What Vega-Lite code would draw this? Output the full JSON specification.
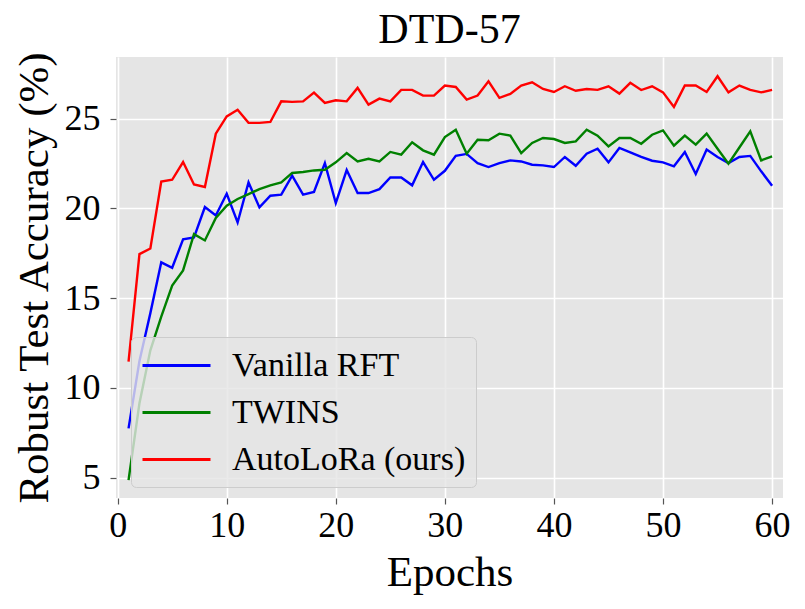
{
  "$schema": "https://vega.github.io/schema/vega-lite/v6.json",
  "width": 667,
  "height": 441,
  "autosize": "none",
  "padding": {"left": 116, "top": 57, "right": 22, "bottom": 111},
  "background": "white",
  "title": {
    "text": "DTD-57",
    "font": "Liberation Serif",
    "fontSize": 42,
    "fontWeight": "normal",
    "color": "black",
    "offset": -2
  },
  "config": {
    "view": {"fill": "#E5E5E5", "stroke": null},
    "axis": {
      "domain": false,
      "grid": true,
      "gridColor": "white",
      "gridWidth": 1.6,
      "tickColor": "#555555",
      "tickSize": 6,
      "tickWidth": 1.2,
      "labelFont": "Liberation Serif",
      "labelFontSize": 36,
      "labelColor": "black",
      "titleFont": "Liberation Serif",
      "titleFontSize": 43,
      "titleFontWeight": "normal",
      "titleColor": "black"
    }
  },
  "data": {
    "values": [
      {"epoch": 1, "method": "Vanilla RFT", "acc": 7.75},
      {"epoch": 2, "method": "Vanilla RFT", "acc": 11.5},
      {"epoch": 3, "method": "Vanilla RFT", "acc": 14.17},
      {"epoch": 4, "method": "Vanilla RFT", "acc": 17.0},
      {"epoch": 5, "method": "Vanilla RFT", "acc": 16.7},
      {"epoch": 6, "method": "Vanilla RFT", "acc": 18.28},
      {"epoch": 7, "method": "Vanilla RFT", "acc": 18.39},
      {"epoch": 8, "method": "Vanilla RFT", "acc": 20.08},
      {"epoch": 9, "method": "Vanilla RFT", "acc": 19.61},
      {"epoch": 10, "method": "Vanilla RFT", "acc": 20.82},
      {"epoch": 11, "method": "Vanilla RFT", "acc": 19.22},
      {"epoch": 12, "method": "Vanilla RFT", "acc": 21.45},
      {"epoch": 13, "method": "Vanilla RFT", "acc": 20.06},
      {"epoch": 14, "method": "Vanilla RFT", "acc": 20.71},
      {"epoch": 15, "method": "Vanilla RFT", "acc": 20.77},
      {"epoch": 16, "method": "Vanilla RFT", "acc": 21.83},
      {"epoch": 17, "method": "Vanilla RFT", "acc": 20.77},
      {"epoch": 18, "method": "Vanilla RFT", "acc": 20.92},
      {"epoch": 19, "method": "Vanilla RFT", "acc": 22.53},
      {"epoch": 20, "method": "Vanilla RFT", "acc": 20.3},
      {"epoch": 21, "method": "Vanilla RFT", "acc": 22.14},
      {"epoch": 22, "method": "Vanilla RFT", "acc": 20.86},
      {"epoch": 23, "method": "Vanilla RFT", "acc": 20.86},
      {"epoch": 24, "method": "Vanilla RFT", "acc": 21.08},
      {"epoch": 25, "method": "Vanilla RFT", "acc": 21.73},
      {"epoch": 26, "method": "Vanilla RFT", "acc": 21.73},
      {"epoch": 27, "method": "Vanilla RFT", "acc": 21.29},
      {"epoch": 28, "method": "Vanilla RFT", "acc": 22.59},
      {"epoch": 29, "method": "Vanilla RFT", "acc": 21.6},
      {"epoch": 30, "method": "Vanilla RFT", "acc": 22.1},
      {"epoch": 31, "method": "Vanilla RFT", "acc": 22.93},
      {"epoch": 32, "method": "Vanilla RFT", "acc": 23.04},
      {"epoch": 33, "method": "Vanilla RFT", "acc": 22.53},
      {"epoch": 34, "method": "Vanilla RFT", "acc": 22.31},
      {"epoch": 35, "method": "Vanilla RFT", "acc": 22.53},
      {"epoch": 36, "method": "Vanilla RFT", "acc": 22.68},
      {"epoch": 37, "method": "Vanilla RFT", "acc": 22.62},
      {"epoch": 38, "method": "Vanilla RFT", "acc": 22.44},
      {"epoch": 39, "method": "Vanilla RFT", "acc": 22.4},
      {"epoch": 40, "method": "Vanilla RFT", "acc": 22.31},
      {"epoch": 41, "method": "Vanilla RFT", "acc": 22.87},
      {"epoch": 42, "method": "Vanilla RFT", "acc": 22.38},
      {"epoch": 43, "method": "Vanilla RFT", "acc": 23.05},
      {"epoch": 44, "method": "Vanilla RFT", "acc": 23.33},
      {"epoch": 45, "method": "Vanilla RFT", "acc": 22.57},
      {"epoch": 46, "method": "Vanilla RFT", "acc": 23.37},
      {"epoch": 47, "method": "Vanilla RFT", "acc": 23.13},
      {"epoch": 48, "method": "Vanilla RFT", "acc": 22.87},
      {"epoch": 49, "method": "Vanilla RFT", "acc": 22.66},
      {"epoch": 50, "method": "Vanilla RFT", "acc": 22.57},
      {"epoch": 51, "method": "Vanilla RFT", "acc": 22.35},
      {"epoch": 52, "method": "Vanilla RFT", "acc": 23.15},
      {"epoch": 53, "method": "Vanilla RFT", "acc": 21.92},
      {"epoch": 54, "method": "Vanilla RFT", "acc": 23.28},
      {"epoch": 55, "method": "Vanilla RFT", "acc": 22.87},
      {"epoch": 56, "method": "Vanilla RFT", "acc": 22.53},
      {"epoch": 57, "method": "Vanilla RFT", "acc": 22.87},
      {"epoch": 58, "method": "Vanilla RFT", "acc": 22.93},
      {"epoch": 59, "method": "Vanilla RFT", "acc": 22.07},
      {"epoch": 60, "method": "Vanilla RFT", "acc": 21.27},
      {"epoch": 1, "method": "TWINS", "acc": 4.87},
      {"epoch": 2, "method": "TWINS", "acc": 9.15},
      {"epoch": 3, "method": "TWINS", "acc": 12.1},
      {"epoch": 4, "method": "TWINS", "acc": 13.98},
      {"epoch": 5, "method": "TWINS", "acc": 15.7},
      {"epoch": 6, "method": "TWINS", "acc": 16.55},
      {"epoch": 7, "method": "TWINS", "acc": 18.57},
      {"epoch": 8, "method": "TWINS", "acc": 18.22},
      {"epoch": 9, "method": "TWINS", "acc": 19.47},
      {"epoch": 10, "method": "TWINS", "acc": 20.15},
      {"epoch": 11, "method": "TWINS", "acc": 20.53},
      {"epoch": 12, "method": "TWINS", "acc": 20.8},
      {"epoch": 13, "method": "TWINS", "acc": 21.08},
      {"epoch": 14, "method": "TWINS", "acc": 21.29},
      {"epoch": 15, "method": "TWINS", "acc": 21.45},
      {"epoch": 16, "method": "TWINS", "acc": 21.98},
      {"epoch": 17, "method": "TWINS", "acc": 22.03},
      {"epoch": 18, "method": "TWINS", "acc": 22.12},
      {"epoch": 19, "method": "TWINS", "acc": 22.16},
      {"epoch": 20, "method": "TWINS", "acc": 22.57},
      {"epoch": 21, "method": "TWINS", "acc": 23.09},
      {"epoch": 22, "method": "TWINS", "acc": 22.62},
      {"epoch": 23, "method": "TWINS", "acc": 22.77},
      {"epoch": 24, "method": "TWINS", "acc": 22.62},
      {"epoch": 25, "method": "TWINS", "acc": 23.15},
      {"epoch": 26, "method": "TWINS", "acc": 23.0},
      {"epoch": 27, "method": "TWINS", "acc": 23.69},
      {"epoch": 28, "method": "TWINS", "acc": 23.24},
      {"epoch": 29, "method": "TWINS", "acc": 23.0},
      {"epoch": 30, "method": "TWINS", "acc": 23.98},
      {"epoch": 31, "method": "TWINS", "acc": 24.39},
      {"epoch": 32, "method": "TWINS", "acc": 23.05},
      {"epoch": 33, "method": "TWINS", "acc": 23.83},
      {"epoch": 34, "method": "TWINS", "acc": 23.8},
      {"epoch": 35, "method": "TWINS", "acc": 24.17},
      {"epoch": 36, "method": "TWINS", "acc": 24.06},
      {"epoch": 37, "method": "TWINS", "acc": 23.09},
      {"epoch": 38, "method": "TWINS", "acc": 23.65},
      {"epoch": 39, "method": "TWINS", "acc": 23.93},
      {"epoch": 40, "method": "TWINS", "acc": 23.87},
      {"epoch": 41, "method": "TWINS", "acc": 23.65},
      {"epoch": 42, "method": "TWINS", "acc": 23.74},
      {"epoch": 43, "method": "TWINS", "acc": 24.39},
      {"epoch": 44, "method": "TWINS", "acc": 24.06},
      {"epoch": 45, "method": "TWINS", "acc": 23.46},
      {"epoch": 46, "method": "TWINS", "acc": 23.93},
      {"epoch": 47, "method": "TWINS", "acc": 23.93},
      {"epoch": 48, "method": "TWINS", "acc": 23.61},
      {"epoch": 49, "method": "TWINS", "acc": 24.11},
      {"epoch": 50, "method": "TWINS", "acc": 24.35},
      {"epoch": 51, "method": "TWINS", "acc": 23.5},
      {"epoch": 52, "method": "TWINS", "acc": 24.06},
      {"epoch": 53, "method": "TWINS", "acc": 23.56},
      {"epoch": 54, "method": "TWINS", "acc": 24.17},
      {"epoch": 55, "method": "TWINS", "acc": 23.33},
      {"epoch": 56, "method": "TWINS", "acc": 22.5},
      {"epoch": 57, "method": "TWINS", "acc": 23.4},
      {"epoch": 58, "method": "TWINS", "acc": 24.3},
      {"epoch": 59, "method": "TWINS", "acc": 22.68},
      {"epoch": 60, "method": "TWINS", "acc": 22.9},
      {"epoch": 1, "method": "AutoLoRa (ours)", "acc": 11.47},
      {"epoch": 2, "method": "AutoLoRa (ours)", "acc": 17.46},
      {"epoch": 3, "method": "AutoLoRa (ours)", "acc": 17.77},
      {"epoch": 4, "method": "AutoLoRa (ours)", "acc": 21.5},
      {"epoch": 5, "method": "AutoLoRa (ours)", "acc": 21.6},
      {"epoch": 6, "method": "AutoLoRa (ours)", "acc": 22.59},
      {"epoch": 7, "method": "AutoLoRa (ours)", "acc": 21.34},
      {"epoch": 8, "method": "AutoLoRa (ours)", "acc": 21.2},
      {"epoch": 9, "method": "AutoLoRa (ours)", "acc": 24.17},
      {"epoch": 10, "method": "AutoLoRa (ours)", "acc": 25.13},
      {"epoch": 11, "method": "AutoLoRa (ours)", "acc": 25.5},
      {"epoch": 12, "method": "AutoLoRa (ours)", "acc": 24.77},
      {"epoch": 13, "method": "AutoLoRa (ours)", "acc": 24.77},
      {"epoch": 14, "method": "AutoLoRa (ours)", "acc": 24.82},
      {"epoch": 15, "method": "AutoLoRa (ours)", "acc": 25.97},
      {"epoch": 16, "method": "AutoLoRa (ours)", "acc": 25.94},
      {"epoch": 17, "method": "AutoLoRa (ours)", "acc": 25.97},
      {"epoch": 18, "method": "AutoLoRa (ours)", "acc": 26.46},
      {"epoch": 19, "method": "AutoLoRa (ours)", "acc": 25.88},
      {"epoch": 20, "method": "AutoLoRa (ours)", "acc": 26.03},
      {"epoch": 21, "method": "AutoLoRa (ours)", "acc": 25.97},
      {"epoch": 22, "method": "AutoLoRa (ours)", "acc": 26.72},
      {"epoch": 23, "method": "AutoLoRa (ours)", "acc": 25.79},
      {"epoch": 24, "method": "AutoLoRa (ours)", "acc": 26.12},
      {"epoch": 25, "method": "AutoLoRa (ours)", "acc": 25.97},
      {"epoch": 26, "method": "AutoLoRa (ours)", "acc": 26.61},
      {"epoch": 27, "method": "AutoLoRa (ours)", "acc": 26.61},
      {"epoch": 28, "method": "AutoLoRa (ours)", "acc": 26.29},
      {"epoch": 29, "method": "AutoLoRa (ours)", "acc": 26.29},
      {"epoch": 30, "method": "AutoLoRa (ours)", "acc": 26.85},
      {"epoch": 31, "method": "AutoLoRa (ours)", "acc": 26.77},
      {"epoch": 32, "method": "AutoLoRa (ours)", "acc": 26.07},
      {"epoch": 33, "method": "AutoLoRa (ours)", "acc": 26.29},
      {"epoch": 34, "method": "AutoLoRa (ours)", "acc": 27.09},
      {"epoch": 35, "method": "AutoLoRa (ours)", "acc": 26.16},
      {"epoch": 36, "method": "AutoLoRa (ours)", "acc": 26.38},
      {"epoch": 37, "method": "AutoLoRa (ours)", "acc": 26.85},
      {"epoch": 38, "method": "AutoLoRa (ours)", "acc": 27.03},
      {"epoch": 39, "method": "AutoLoRa (ours)", "acc": 26.66},
      {"epoch": 40, "method": "AutoLoRa (ours)", "acc": 26.49},
      {"epoch": 41, "method": "AutoLoRa (ours)", "acc": 26.81},
      {"epoch": 42, "method": "AutoLoRa (ours)", "acc": 26.56},
      {"epoch": 43, "method": "AutoLoRa (ours)", "acc": 26.66},
      {"epoch": 44, "method": "AutoLoRa (ours)", "acc": 26.61},
      {"epoch": 45, "method": "AutoLoRa (ours)", "acc": 26.81},
      {"epoch": 46, "method": "AutoLoRa (ours)", "acc": 26.4},
      {"epoch": 47, "method": "AutoLoRa (ours)", "acc": 27.0},
      {"epoch": 48, "method": "AutoLoRa (ours)", "acc": 26.6},
      {"epoch": 49, "method": "AutoLoRa (ours)", "acc": 26.81},
      {"epoch": 50, "method": "AutoLoRa (ours)", "acc": 26.47},
      {"epoch": 51, "method": "AutoLoRa (ours)", "acc": 25.66},
      {"epoch": 52, "method": "AutoLoRa (ours)", "acc": 26.85},
      {"epoch": 53, "method": "AutoLoRa (ours)", "acc": 26.85},
      {"epoch": 54, "method": "AutoLoRa (ours)", "acc": 26.49},
      {"epoch": 55, "method": "AutoLoRa (ours)", "acc": 27.37},
      {"epoch": 56, "method": "AutoLoRa (ours)", "acc": 26.47},
      {"epoch": 57, "method": "AutoLoRa (ours)", "acc": 26.85},
      {"epoch": 58, "method": "AutoLoRa (ours)", "acc": 26.61},
      {"epoch": 59, "method": "AutoLoRa (ours)", "acc": 26.47},
      {"epoch": 60, "method": "AutoLoRa (ours)", "acc": 26.61}
    ]
  },
  "mark": {"type": "line", "strokeWidth": 2.4, "clip": true},
  "encoding": {
    "x": {
      "field": "epoch",
      "type": "quantitative",
      "scale": {"domain": [-0.15, 61], "nice": false, "zero": false},
      "axis": {"values": [0, 10, 20, 30, 40, 50, 60], "title": "Epochs", "labelPadding": 4, "titlePadding": 8}
    },
    "y": {
      "field": "acc",
      "type": "quantitative",
      "scale": {"domain": [3.87, 28.44], "nice": false, "zero": false},
      "axis": {"values": [5, 10, 15, 20, 25], "title": "Robust Test Accuracy (%)", "labelPadding": 10, "titlePadding": 8}
    },
    "color": {
      "field": "method",
      "type": "nominal",
      "sort": ["Vanilla RFT", "TWINS", "AutoLoRa (ours)"],
      "scale": {
        "domain": ["Vanilla RFT", "TWINS", "AutoLoRa (ours)"],
        "range": ["#0000FF", "#008000", "#FF0000"]
      },
      "legend": {
        "title": null,
        "orient": "none",
        "legendX": 15,
        "legendY": 280,
        "fillColor": "rgba(229,229,229,0.8)",
        "strokeColor": "#cccccc",
        "cornerRadius": 5,
        "padding": 10,
        "symbolType": "M-2,0H2",
        "symbolSize": 1156,
        "symbolStrokeWidth": 3,
        "symbolOffset": 17,
        "labelFont": "Liberation Serif",
        "labelFontSize": 34,
        "labelColor": "black",
        "labelOffset": 37,
        "rowPadding": 11,
        "labelLimit": 400
      }
    }
  }
}
